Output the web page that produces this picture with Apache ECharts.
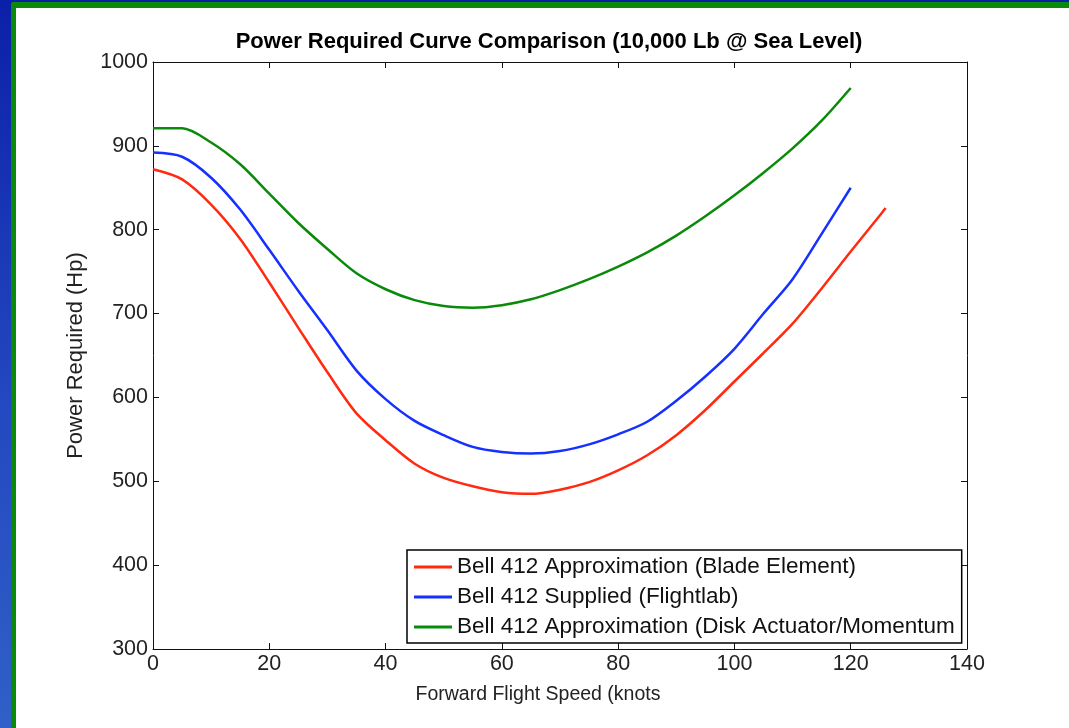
<!DOCTYPE html>
<html>
<head>
<meta charset="utf-8">
<script src="https://cdn.jsdelivr.net/npm/echarts@6/dist/echarts.min.js"></script>
<style>
  html, body { margin: 0; padding: 0; width: 1069px; height: 728px; overflow: hidden; }
  body { background: linear-gradient(to bottom, #0b20a8 0%, #2348c0 55%, #3060c8 100%); position: relative; }
  #frame { position: absolute; left: 11px; top: 2px; width: 1058px; height: 726px; box-sizing: border-box;
           border-left: 5px solid #0a8a0a; border-top: 6px solid #0a8a0a; border-top-left-radius: 3px; background: #fff; }
  #chart { position: absolute; left: 0; top: 0; width: 1069px; height: 728px; }
</style>
</head>
<body>
<div id="frame"></div>
<div id="chart"></div>
<script>
// Forward flight speed (knots)
const speedA = [0, 5, 10, 15, 20, 25, 30, 35, 40, 45, 50, 55, 60, 65, 70, 75, 80, 85, 90, 95, 100, 105, 110, 115, 120, 125, 126];
const bladeElement = [872, 860, 830, 789, 737, 683, 630, 581, 549, 521, 504, 494, 487, 485, 490, 499, 513, 531, 555, 585, 619, 653, 688, 730, 774, 817, 826];
const speedB = [0, 5, 10, 15, 20, 25, 30, 35, 40, 45, 50, 55, 60, 65, 70, 75, 80, 85, 90, 95, 100, 105, 110, 115, 120];
const flightlab = [892, 887, 862, 824, 776, 727, 680, 632, 598, 572, 555, 541, 535, 533, 536, 544, 556, 571, 596, 625, 658, 700, 741, 795, 850];
const diskActuator = [921, 921, 904, 878, 843, 808, 777, 748, 729, 716, 709, 707, 710, 717, 728, 741, 756, 773, 793, 816, 841, 868, 897, 930, 969];
const seriesNames = [
  'Bell 412 Approximation (Blade Element)',
  'Bell 412 Supplied (Flightlab)',
  'Bell 412 Approximation (Disk Actuator/Momentum'
];
const seriesColors = ['#ff2a10', '#1530ff', '#0a8a0a'];
const xTicks = { min: 0, max: 140, interval: 20 };
const yTicks = { min: 300, max: 1000, interval: 100 };

const zip = (xs, ys) => xs.map((x, i) => [x, ys[i]]);
const font = 'Liberation Sans, Arial, Helvetica, sans-serif';
const axisCol = '#111';

const baseX = {
  type: 'value', min: xTicks.min, max: xTicks.max, interval: xTicks.interval,
  axisLine: { show: true, onZero: false, lineStyle: { color: axisCol, width: 1 } },
  axisTick: { show: true, inside: true, length: 6, lineStyle: { color: axisCol } },
  splitLine: { show: false }
};
const baseY = {
  type: 'value', min: yTicks.min, max: yTicks.max, interval: yTicks.interval,
  axisLine: { show: true, onZero: false, lineStyle: { color: axisCol, width: 1 } },
  axisTick: { show: true, inside: true, length: 6, lineStyle: { color: axisCol } },
  splitLine: { show: false }
};

const chart = echarts.init(document.getElementById('chart'), null, { renderer: 'canvas' });
chart.setOption({
  backgroundColor: 'transparent',
  animation: false,
  title: {
    text: 'Power Required Curve Comparison (10,000 Lb @ Sea Level)',
    left: 544, top: 26, textAlign: 'center',
    textStyle: { fontFamily: font, fontWeight: 'bold', fontSize: 22, color: '#000' }
  },
  grid: { left: 153, right: 102, top: 62, bottom: 79, containLabel: false },
  xAxis: [
    Object.assign({}, baseX, {
      position: 'bottom',
      name: 'Forward Flight Speed (knots',
      nameLocation: 'middle', nameGap: 36,
      nameTextStyle: { fontFamily: font, fontSize: 19.5, color: '#222', padding: [0, 44, 0, 0] },
      axisLabel: { show: true, fontFamily: font, fontSize: 21.5, color: '#222', margin: 4,
                   formatter: v => String(v) }
    }),
    Object.assign({}, baseX, { position: 'top', axisLabel: { show: false } })
  ],
  yAxis: [
    Object.assign({}, baseY, {
      position: 'left',
      name: 'Power Required (Hp)',
      nameLocation: 'middle', nameGap: 66,
      nameTextStyle: { fontFamily: font, fontSize: 22, color: '#222' },
      axisLabel: { show: true, fontFamily: font, fontSize: 21.5, color: '#222', margin: 5,
                   formatter: v => String(v) }
    }),
    Object.assign({}, baseY, { position: 'right', axisLabel: { show: false } })
  ],
  legend: {
    orient: 'vertical', left: 407, top: 550,
    padding: [5, 7, 4, 7], itemGap: 6,
    backgroundColor: '#fff', borderColor: '#000', borderWidth: 1.5,
    icon: 'rect', itemWidth: 38, itemHeight: 3,
    textStyle: { fontFamily: font, fontSize: 22.5, color: '#111', lineHeight: 24 },
    data: seriesNames
  },
  series: [
    { name: seriesNames[0], type: 'line', data: zip(speedA, bladeElement), smooth: 0.3, showSymbol: false, symbol: 'none',
      lineStyle: { color: seriesColors[0], width: 2.5 }, itemStyle: { color: seriesColors[0] } },
    { name: seriesNames[1], type: 'line', data: zip(speedB, flightlab), smooth: 0.3, showSymbol: false, symbol: 'none',
      lineStyle: { color: seriesColors[1], width: 2.5 }, itemStyle: { color: seriesColors[1] } },
    { name: seriesNames[2], type: 'line', data: zip(speedB, diskActuator), smooth: 0.3, showSymbol: false, symbol: 'none',
      lineStyle: { color: seriesColors[2], width: 2.5 }, itemStyle: { color: seriesColors[2] } }
  ]
});
</script>
</body>
</html>
